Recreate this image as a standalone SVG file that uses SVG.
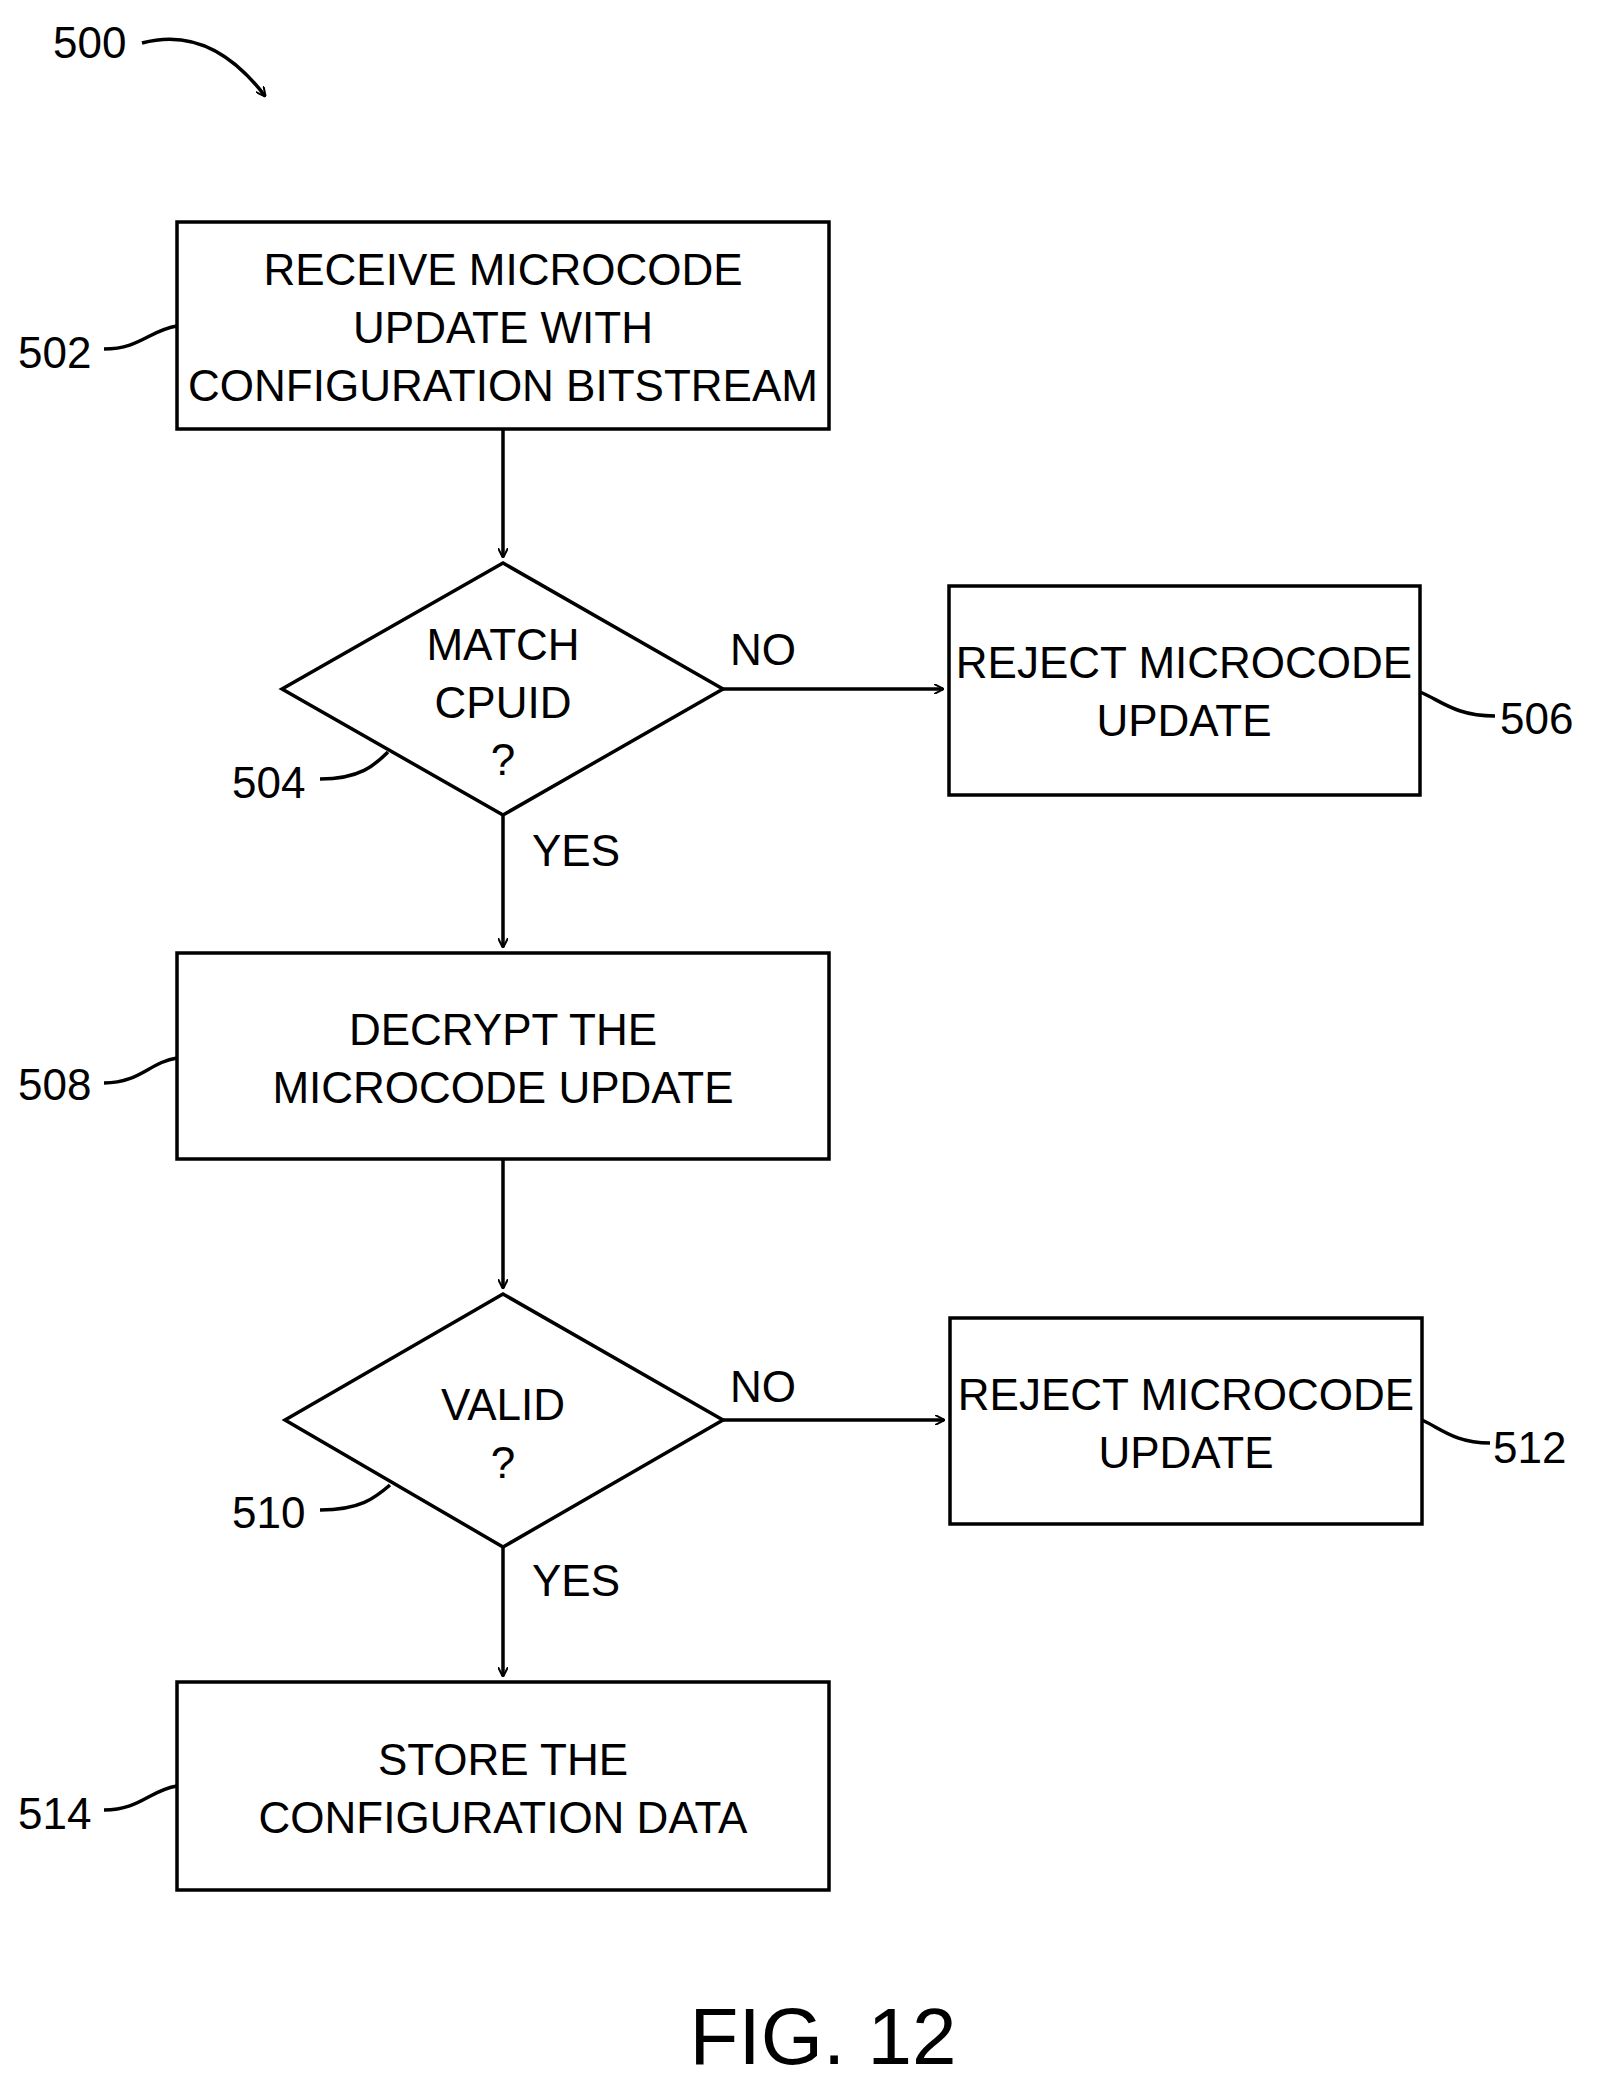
<svg xmlns="http://www.w3.org/2000/svg" width="1597" height="2079" viewBox="0 0 1597 2079">
<style>
.s{fill:none;stroke:#000;stroke-width:3.5}
.t{font-family:"Liberation Sans",Arial,sans-serif;font-size:44px;text-anchor:middle;fill:#000}
.r{font-family:"Liberation Sans",Arial,sans-serif;font-size:44px;fill:#000}
</style>
<defs><marker id="a" markerWidth="10" markerHeight="10" refX="9" refY="5" orient="auto" markerUnits="userSpaceOnUse" viewBox="0 0 10 10"><path d="M0,0 L10,5 L0,10" fill="none" stroke="#000" stroke-width="2"/></marker></defs>
<rect width="1597" height="2079" fill="#fff"/>
<g id="connectors" class="s">
<path d="M503 429V557" marker-end="url(#a)"/>
<path d="M723 689H943" marker-end="url(#a)"/>
<path d="M503 815V947" marker-end="url(#a)"/>
<path d="M503 1159V1288" marker-end="url(#a)"/>
<path d="M723 1420H944" marker-end="url(#a)"/>
<path d="M503 1547V1676" marker-end="url(#a)"/>
<path d="M142 43C190 30 230 50 265 96" marker-end="url(#a)"/>
<path d="M104 349C140 349 150 330 177 326"/>
<path d="M320 779C360 779 375 765 388 752"/>
<path d="M1495 716C1455 716 1440 700 1420 692"/>
<path d="M104 1083C140 1083 150 1062 177 1058"/>
<path d="M320 1510C360 1510 375 1498 390 1485"/>
<path d="M1490 1443C1455 1443 1440 1428 1422 1420"/>
<path d="M104 1810C140 1810 150 1790 177 1786"/>
</g>
<text class="r" x="53" y="58">500</text>
<g id="n502"><rect class="s" x="177" y="222" width="652" height="207"/>
<text class="t" x="503" y="285">RECEIVE  MICROCODE</text><text class="t" x="503" y="343">UPDATE  WITH</text><text class="t" x="503" y="401">CONFIGURATION  BITSTREAM</text>
<text class="r" x="18" y="368">502</text></g>
<g id="n504"><path class="s" d="M503 563L723 689L503 815L282 689Z"/>
<text class="t" x="503" y="660">MATCH</text><text class="t" x="503" y="718">CPUID</text><text class="t" x="503" y="775">?</text>
<text class="r" x="232" y="798">504</text><text class="r" x="730" y="665">NO</text><text class="r" x="532" y="866">YES</text></g>
<g id="n506"><rect class="s" x="949" y="586" width="471" height="209"/>
<text class="t" x="1184" y="678">REJECT  MICROCODE</text><text class="t" x="1184" y="736">UPDATE</text>
<text class="r" x="1500" y="734">506</text></g>
<g id="n508"><rect class="s" x="177" y="953" width="652" height="206"/>
<text class="t" x="503" y="1045">DECRYPT  THE</text><text class="t" x="503" y="1103">MICROCODE  UPDATE</text>
<text class="r" x="18" y="1100">508</text></g>
<g id="n510"><path class="s" d="M503 1294L723 1420L503 1547L285 1420Z"/>
<text class="t" x="503" y="1420">VALID</text><text class="t" x="503" y="1478">?</text>
<text class="r" x="232" y="1528">510</text><text class="r" x="730" y="1402">NO</text><text class="r" x="532" y="1596">YES</text></g>
<g id="n512"><rect class="s" x="950" y="1318" width="472" height="206"/>
<text class="t" x="1186" y="1410">REJECT  MICROCODE</text><text class="t" x="1186" y="1468">UPDATE</text>
<text class="r" x="1493" y="1463">512</text></g>
<g id="n514"><rect class="s" x="177" y="1682" width="652" height="208"/>
<text class="t" x="503" y="1775">STORE  THE</text><text class="t" x="503" y="1833">CONFIGURATION  DATA</text>
<text class="r" x="18" y="1829">514</text></g>
<text class="t" x="823" y="2064" style="font-size:80px">FIG. 12</text>
</svg>
